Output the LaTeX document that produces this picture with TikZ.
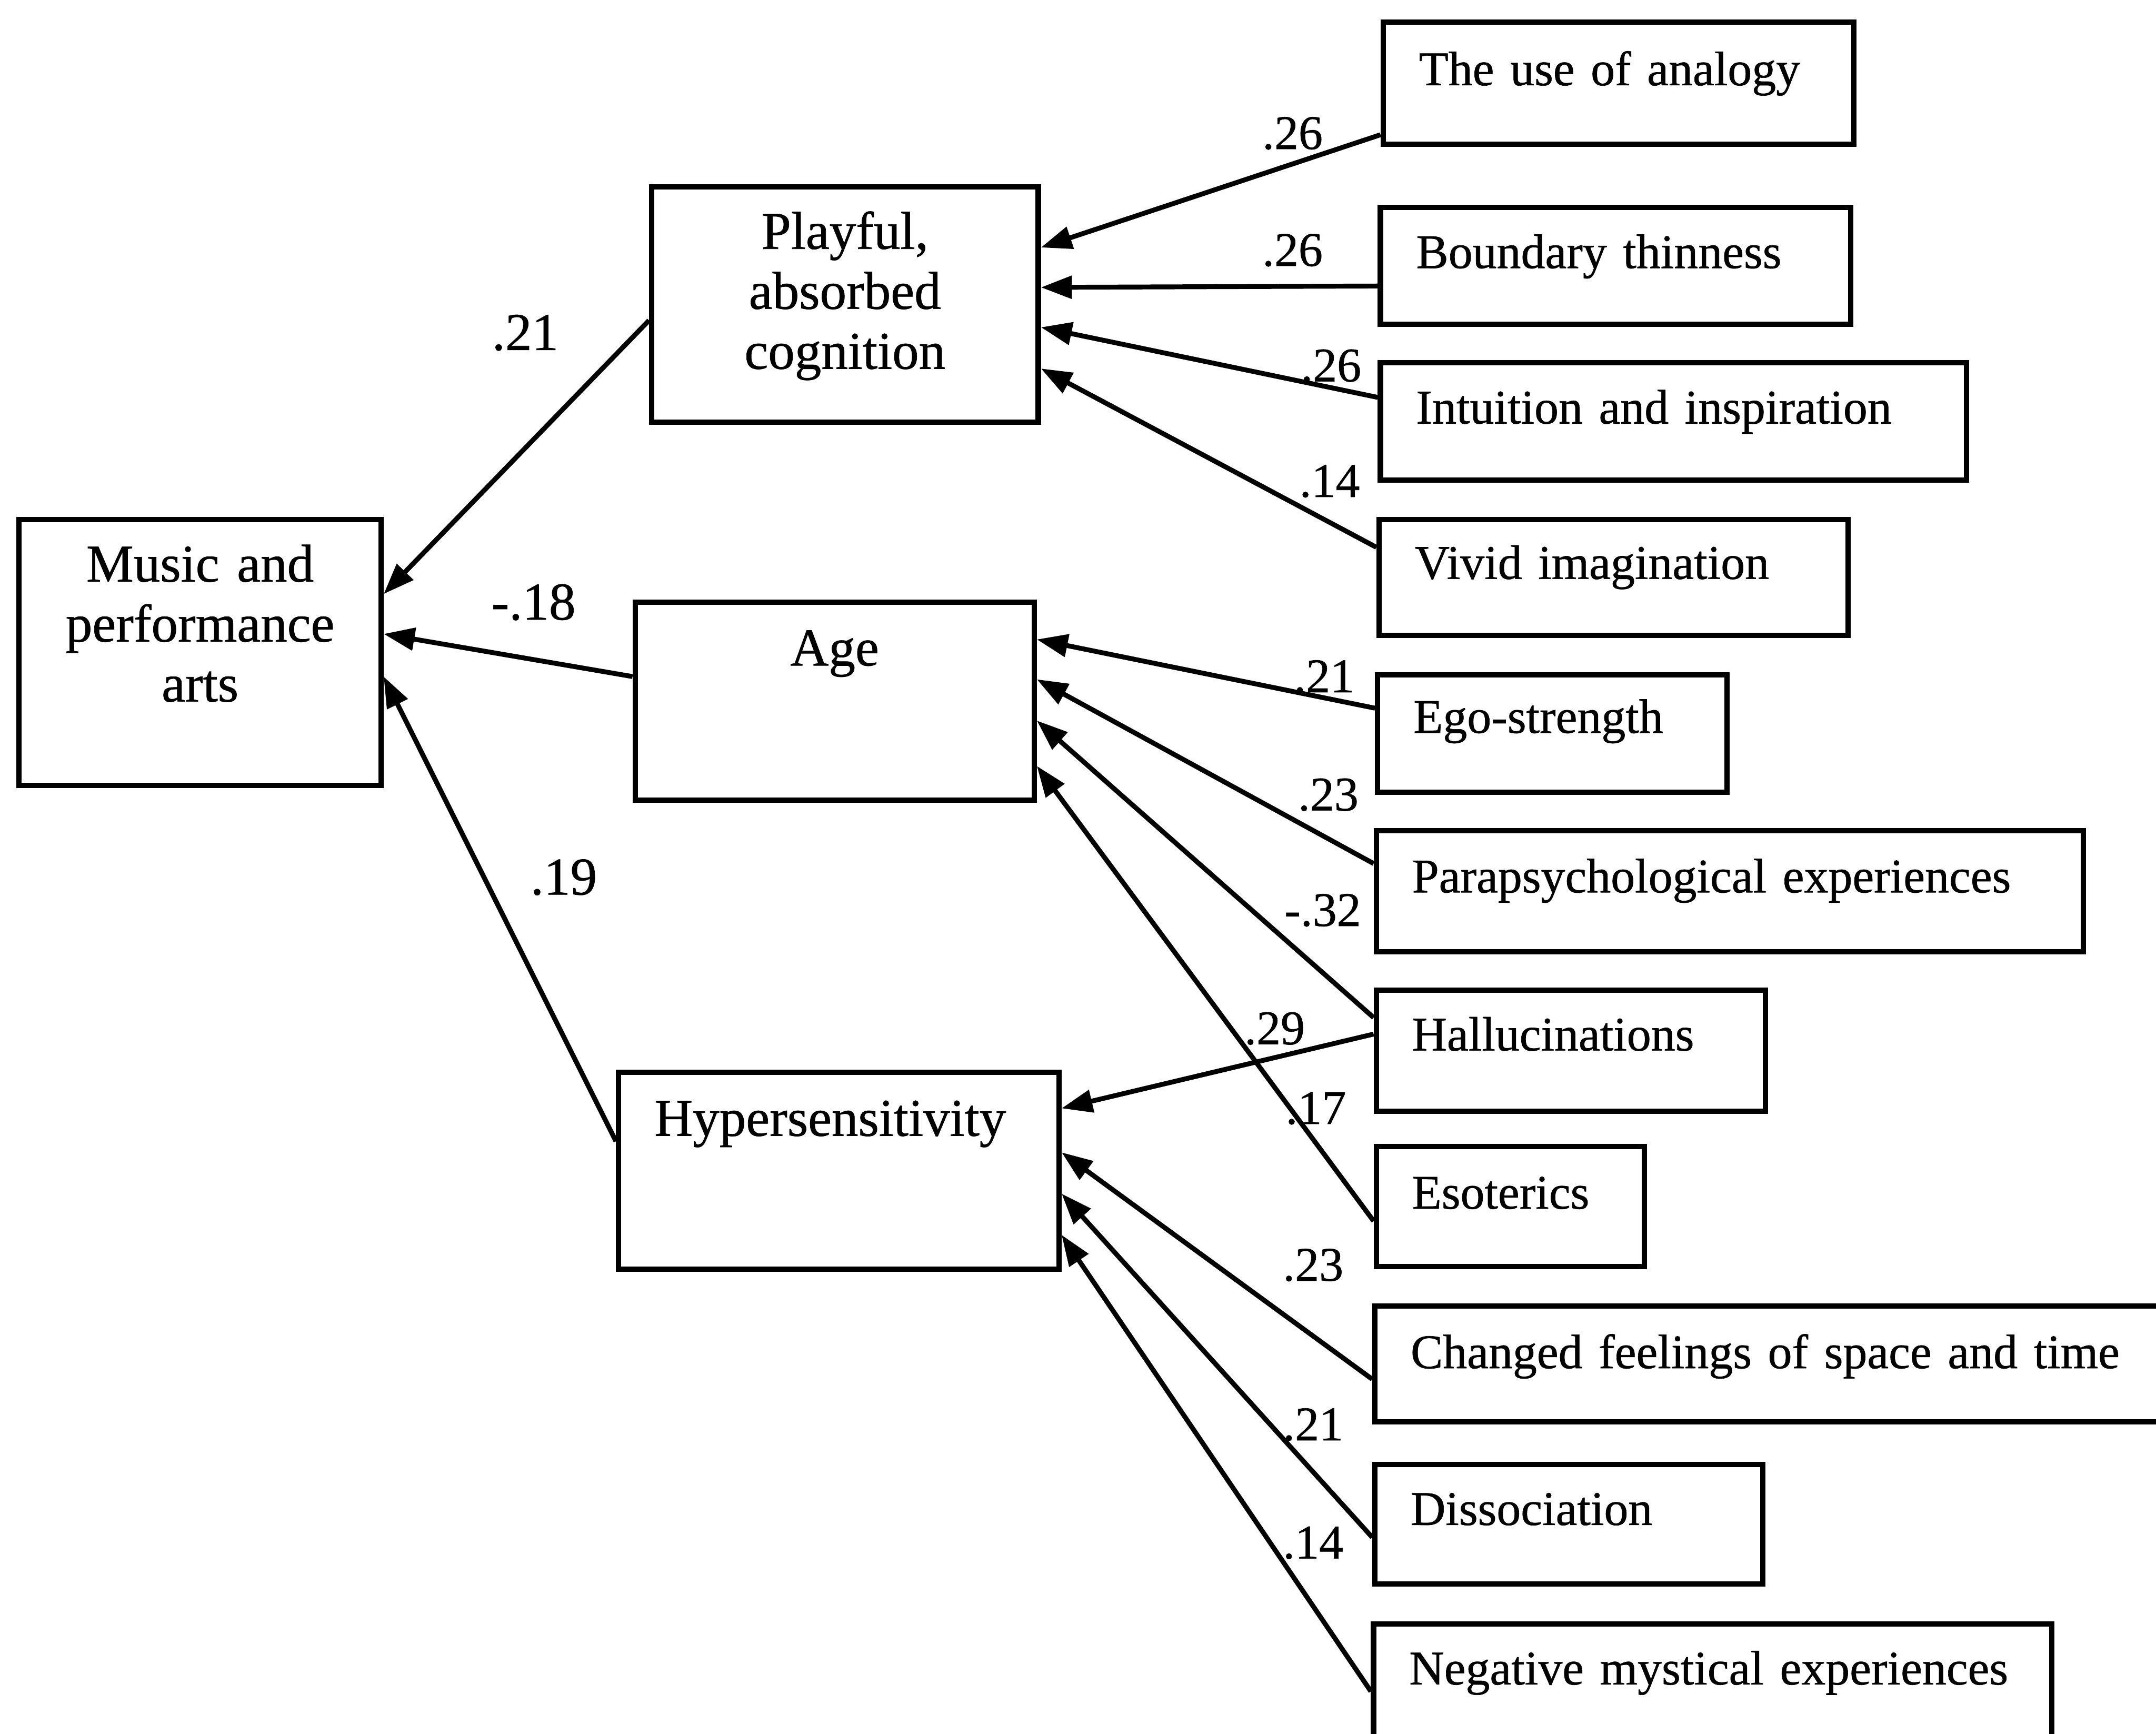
\documentclass[tikz,border=0pt]{standalone}
\usepackage{fontspec}
\setmainfont{Liberation Serif}[FakeBold=0.7]
\usetikzlibrary{arrows.meta}
\begin{document}
\begin{tikzpicture}[x=0.01cm,y=-0.01cm,
  box/.style={draw, line width=1.1pt, rectangle, anchor=north west,
    inner ysep=0pt, font=\fontsize{10}{12.5}\selectfont},
  midbox/.style={box, align=center, inner xsep=0.1cm, font=\fontsize{11}{12.4}\selectfont},
  sidebox/.style={box, align=left, inner xsep=0.26cm},
  link/.style={line width=1pt, -{Triangle[length=6.4pt,width=4.6pt]}},
  coef/.style={inner sep=0pt, font=\fontsize{10}{12}\selectfont},
  bigcoef/.style={coef, font=\fontsize{11}{12}\selectfont}]

% page frame
\useasboundingbox (0,0) rectangle (1568,1261);
\clip (0,0) rectangle (1568,1261);
\fill[white] (0,0) rectangle (1568,1261);

% outcome and mediating variables
\node[midbox, text width=2.43cm, text height=0.45cm, text depth=1.48cm] (music) at (12,376)
  {Music and\\performance\\arts};
\node[midbox, text width=2.61cm, text height=0.45cm, text depth=1.26cm] (playful) at (472,134)
  {Playful,\\absorbed\\cognition};
\node[midbox, text width=2.70cm, text height=0.46cm, text depth=0.98cm] (age) at (460,436) {Age};
\node[sidebox, font=\fontsize{11}{12.4}\selectfont, text width=2.68cm, text height=0.46cm,
  text depth=0.97cm] (hyper) at (448,778) {Hypersensitivity};

% predictors
\node[sidebox, text width=2.90cm, text height=0.46cm, text depth=0.43cm] (analogy) at (1004,14)
  {The use of analogy};
\node[sidebox, text width=2.90cm, text height=0.44cm, text depth=0.41cm] (boundary) at (1002,149)
  {Boundary thinness};
\node[sidebox, text width=3.74cm, text height=0.44cm, text depth=0.41cm] (intuition) at (1002,262)
  {Intuition and inspiration};
\node[sidebox, text width=2.89cm, text height=0.43cm, text depth=0.41cm] (vivid) at (1001,376)
  {Vivid imagination};
\node[sidebox, text width=2.02cm, text height=0.42cm, text depth=0.43cm] (ego) at (1000,489)
  {Ego-strength};
\node[sidebox, text width=4.62cm, text height=0.45cm, text depth=0.43cm] (para) at (999,602)
  {Parapsychological experiences};
\node[sidebox, text width=2.31cm, text height=0.44cm, text depth=0.44cm] (halluc) at (999,718)
  {Hallucinations};
\node[sidebox, text width=1.43cm, text height=0.45cm, text depth=0.42cm] (esoterics) at (999,832)
  {Esoterics};
\node[sidebox, text width=5.50cm, text height=0.45cm, text depth=0.39cm] (changed) at (998,948)
  {Changed feelings of space and time};
\node[sidebox, text width=2.30cm, text height=0.44cm, text depth=0.43cm] (dissoc) at (998,1063)
  {Dissociation};
\node[sidebox, text width=4.41cm, text height=0.44cm, text depth=0.77cm] (negative) at (997,1179)
  {Negative mystical experiences};

% paths into playful, absorbed cognition
\draw[link] (analogy.west |- 0,98) -- (playful.east |- 0,180);
\draw[link] (boundary.west |- 0,208) -- (playful.east |- 0,209);
\draw[link] (intuition.west |- 0,289) -- (playful.east |- 0,238);
\draw[link] (vivid.west |- 0,398) -- (playful.east |- 0,268);

% paths into age
\draw[link] (ego.west |- 0,515) -- (age.east |- 0,465);
\draw[link] (para.west |- 0,628) -- (age.east |- 0,494);
\draw[link] (halluc.west |- 0,740) -- (age.east |- 0,524);
\draw[link] (esoterics.west |- 0,888) -- (age.east |- 0,557);

% paths into hypersensitivity
\draw[link] (halluc.west |- 0,752) -- (hyper.east |- 0,806);
\draw[link] (changed.west |- 0,1003) -- (hyper.east |- 0,838);
\draw[link] (dissoc.west |- 0,1118) -- (hyper.east |- 0,868);
\draw[link] (negative.west |- 0,1230) -- (hyper.east |- 0,898);

% paths into music and performance arts
\draw[link] (playful.west |- 0,233) -- (music.east |- 0,432);
\draw[link] (age.west |- 0,492) -- (music.east |- 0,461);
\draw[link] (hyper.west |- 0,830) -- (music.east |- 0,492);

% path coefficients
\node[coef] (k1) at (940,97) {.26};
\node[coef] (k2) at (940,182) {.26};
\node[coef] (k3) at (968,266) {.26};
\node[coef] (k4) at (967,350) {.14};
\node[coef] (k5) at (963,492) {.21};
\node[coef] (k6) at (966,578) {.23};
\node[coef] (k7) at (962,662) {-.32};
\node[coef] (k8) at (927,748) {.29};
\node[coef] (k9) at (957,806) {.17};
\node[coef] (k10) at (955,920) {.23};
\node[coef] (k11) at (955,1036) {.21};
\node[coef] (k12) at (955,1122) {.14};
\node[bigcoef] (k13) at (382,242) {.21};
\node[bigcoef] (k14) at (388,438) {-.18};
\node[bigcoef] (k15) at (410,638) {.19};
\end{tikzpicture}
\end{document}
